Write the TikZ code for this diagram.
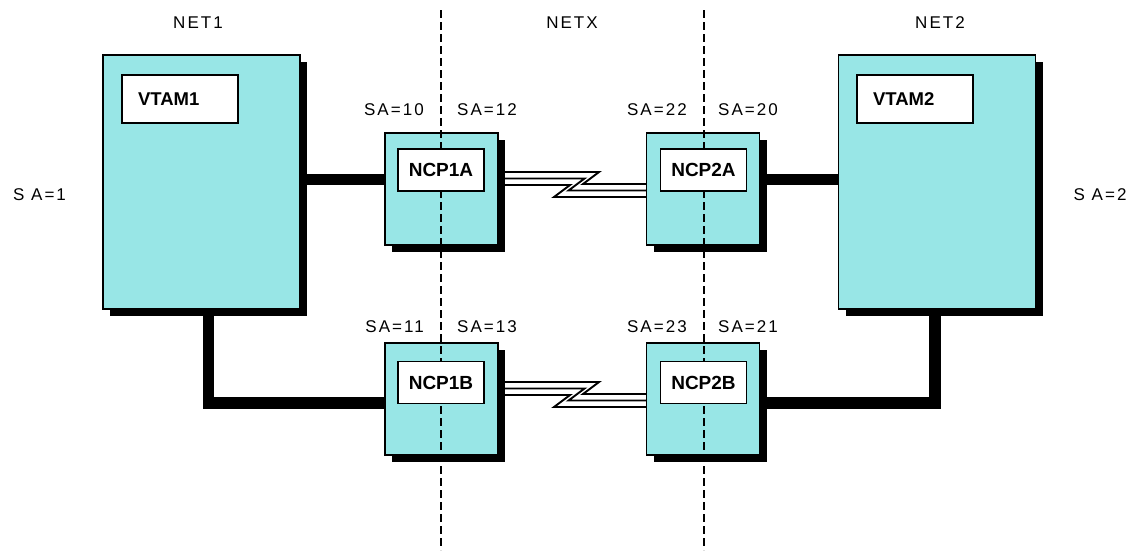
\documentclass[tikz,border=0pt]{standalone}
\usepackage{fontspec}
\setmainfont{Liberation Sans}
\newfontfamily\lblfont[LetterSpace=12]{Liberation Sans}
\usetikzlibrary{shadows,backgrounds}
\definecolor{cyanbox}{RGB}{152,230,230}
\begin{document}
\begin{tikzpicture}[x=1pt,y=-1pt,
  lbl/.style={font=\lblfont\fontsize{17}{20}\selectfont, inner sep=0pt},
  bar/.style={line width=11.5pt, line join=miter},
  divider/.style={line width=1.5pt, dash pattern=on 8pt off 4pt},
  wire/.style={line width=1.9pt, line join=miter},
  cbox/.style={draw=black, line width=1.5pt, fill=cyanbox, inner sep=0pt,
    general shadow={fill=black, shadow xshift=7pt, shadow yshift=-7pt}},
  vbox/.style={cbox, minimum width=197pt, minimum height=254pt},
  nbox/.style={cbox, minimum width=113pt, minimum height=112pt},
  vtag/.style={draw, line width=1.5pt, fill=white, inner xsep=16pt, inner ysep=0pt,
    text width=84pt, align=left, minimum height=48pt, font=\bfseries\fontsize{18.5}{22}\selectfont},
  ntag/.style={draw, line width=1.5pt, fill=white, inner sep=0pt,
    minimum width=86pt, minimum height=42pt, font=\bfseries\fontsize{19}{22}\selectfont}
]
\useasboundingbox (0,0) rectangle (1131,550);

% main boxes
\node[vbox] (v1) at (201.5,182) {};
\node[vbox] (v2) at (937,182) {};
\node[nbox] (n1a) at (441.5,189) {};
\node[nbox] (n2a) at (703,189) {};
\node[nbox] (n1b) at (441.5,399) {};
\node[nbox] (n2b) at (703,399) {};

% connectors behind the boxes
\begin{scope}[on background layer]
  \draw[bar] (v1.east |- 0,179.5) -- (n1a.west |- 0,179.5);
  \draw[bar] (n2a.east |- 0,179.5) -- (v2.west |- 0,179.5);
  \draw[bar] (v1.south -| 208.5,0) |- (n1b.west |- 0,403);
  \draw[bar] (n2b.east |- 0,403) -| (v2.south -| 935,0);
  \foreach \a/\b/\d in {n1a/n2a/0, n1b/n2b/210}{
    \draw[wire] (\a.east |- 0,{172+\d}) -- (599,{172+\d}) -- (583,{184+\d}) -- (\b.west |- 0,{184+\d});
    \draw[wire] (\a.east |- 0,{178.5+\d}) -- (584.5,{178.5+\d}) -- (568.5,{190.5+\d}) -- (\b.west |- 0,{190.5+\d});
    \draw[wire] (\a.east |- 0,{185+\d}) -- (570,{185+\d}) -- (554,{197+\d}) -- (\b.west |- 0,{197+\d});
  }
\end{scope}

% dividers
\coordinate (d1t) at (441,10);
\coordinate (d1b) at (441,550);
\coordinate (d2t) at (704,10);
\coordinate (d2b) at (704,550);
\draw[divider] (d1t) -- (d1b);
\draw[divider] (d2t) -- (d2b);

% inner labels
\node[vtag] (t1) at (180,99) {VTAM1};
\node[vtag] (t2) at (915,99) {VTAM2};
\node[ntag] (t1a) at (441,170) {NCP1A};
\node[ntag] (t2a) at (703.5,170) {NCP2A};
\node[ntag] (t1b) at (441,382.5) {NCP1B};
\node[ntag] (t2b) at (703.5,382.5) {NCP2B};

% network labels
\node[lbl] (net1) at (198,23) {NET1};
\node[lbl] (netx) at (572,23) {NETX};
\node[lbl] (net2) at (940,23) {NET2};

% SA labels
\node[lbl, anchor=east] (sa10) at (424,109.5) {SA=10};
\node[lbl, anchor=west] (sa12) at (457,109.5) {SA=12};
\node[lbl, anchor=east] (sa22) at (687,109.5) {SA=22};
\node[lbl, anchor=west] (sa20) at (718,109.5) {SA=20};
\node[lbl, anchor=east] (sa11) at (424,327) {SA=11};
\node[lbl, anchor=west] (sa13) at (457,327) {SA=13};
\node[lbl, anchor=east] (sa23) at (687,327) {SA=23};
\node[lbl, anchor=west] (sa21) at (718,327) {SA=21};
\node[lbl] (sa1) at (39.5,195) {S A=1};
\node[lbl] (sa2) at (1100,195) {S A=2};
\end{tikzpicture}
\end{document}
